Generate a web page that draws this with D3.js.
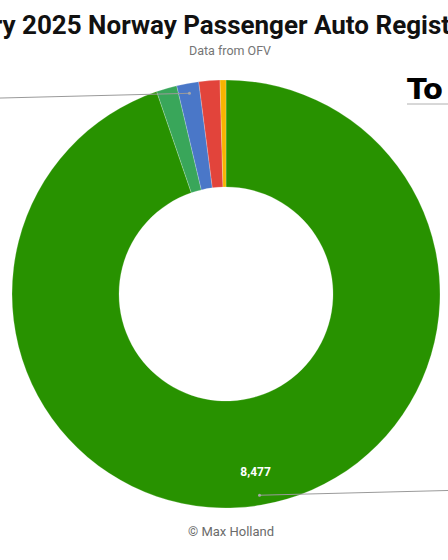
<!DOCTYPE html>
<html>
<head>
<meta charset="utf-8">
<script src="https://cdn.jsdelivr.net/npm/d3@7"></script>
<style>
  html, body { margin: 0; padding: 0; background: #fff; }
  svg { display: block; }
</style>
</head>
<body>
<svg id="chart" width="448" height="560"></svg>
<script>
// ---- data ----
const categories = ["BEV", "PHEV", "HEV", "Petrol", "Diesel"];
const values = [8477, 139, 149, 142, 40];
const colors = ["#289200", "#39a65a", "#4a77c8", "#e2443b", "#f6b400"];
const titleText = "January 2025 Norway Passenger Auto Registrations";
const subtitleText = "Data from OFV";
const creditText = "© Max Holland";
const sideTitle = "Total";

const svg = d3.select("#chart");
const W = 448, H = 560;
const cx = 226, cy = 294, R = 214, r0 = 107;

// title (cropped like the reference)
const title = svg.append("text")
  .attr("y", 34)
  .attr("font-family", "Roboto, sans-serif")
  .attr("font-weight", 700)
  .attr("font-size", 26)
  .attr("fill", "#111")
  .text(titleText);
const pre = title.node().getSubStringLength(0, 8);
title.attr("x", 22 - pre);

svg.append("text")
  .attr("x", 230).attr("y", 55)
  .attr("text-anchor", "middle")
  .attr("font-family", "Roboto, sans-serif")
  .attr("font-size", 12.5)
  .attr("fill", "#757575")
  .text(subtitleText);

// donut
const pie = d3.pie().sort(null).value(d => d.v);
const arcs = pie(categories.map((c, i) => ({ c, v: values[i], col: colors[i] })));
const arc = d3.arc().innerRadius(r0).outerRadius(R);
const g = svg.append("g").attr("transform", `translate(${cx},${cy})`);

g.selectAll("path").data(arcs).join("path")
  .attr("d", arc)
  .attr("fill", d => d.data.col)
  .attr("stroke", "#ffffff")
  .attr("stroke-opacity", 0.35)
  .attr("stroke-width", 0.6);

// leader lines to outside (off-canvas) labels
const mid = d => (d.startAngle + d.endAngle) / 2;
const pt = (a, rr) => [Math.sin(a) * rr, -Math.cos(a) * rr];
const leaders = [arcs[0], arcs[2]];
leaders.forEach(d => {
  const a = mid(d);
  const [x, y] = pt(a, 204);
  const right = d.index === 0;
  const ex = right ? (W - cx + 30) : (-cx - 30);
  const ey = y + (right ? -5.5 : 5.5);
  g.append("line")
    .attr("x1", x).attr("y1", y).attr("x2", ex).attr("y2", ey)
    .attr("stroke", "#9a9a9a").attr("stroke-width", 1);
  g.append("circle").attr("cx", x).attr("cy", y).attr("r", 1.5)
    .attr("fill", "#a8a8a8");
});

// inside value label for the main slice
const a0 = mid(arcs[0]);
const [lx, ly] = pt(a0, 180);
g.append("text")
  .attr("x", lx).attr("y", ly + 4)
  .attr("text-anchor", "middle")
  .attr("font-family", "Roboto, sans-serif")
  .attr("font-weight", 700)
  .attr("font-size", 12)
  .attr("fill", "#ffffff")
  .text(d3.format(",")(values[0]));

// side title (cropped at the right edge, like the reference)
const side = svg.append("text")
  .attr("x", 407).attr("y", 99)
  .attr("font-family", "'DejaVu Sans', sans-serif")
  .attr("font-weight", 700)
  .attr("font-size", 29)
  .attr("fill", "#000");
side.append("tspan").text(sideTitle.slice(0, 2));
side.append("tspan").attr("dx", 6).text(sideTitle.slice(2));
svg.append("line")
  .attr("x1", 407).attr("x2", 460).attr("y1", 104).attr("y2", 104)
  .attr("stroke", "#b0b0b0").attr("stroke-width", 1);

// credit
svg.append("text")
  .attr("x", 231).attr("y", 536)
  .attr("text-anchor", "middle")
  .attr("font-family", "Roboto, sans-serif")
  .attr("font-size", 13)
  .attr("fill", "#6b6b6b")
  .text(creditText);
</script>
</body>
</html>
